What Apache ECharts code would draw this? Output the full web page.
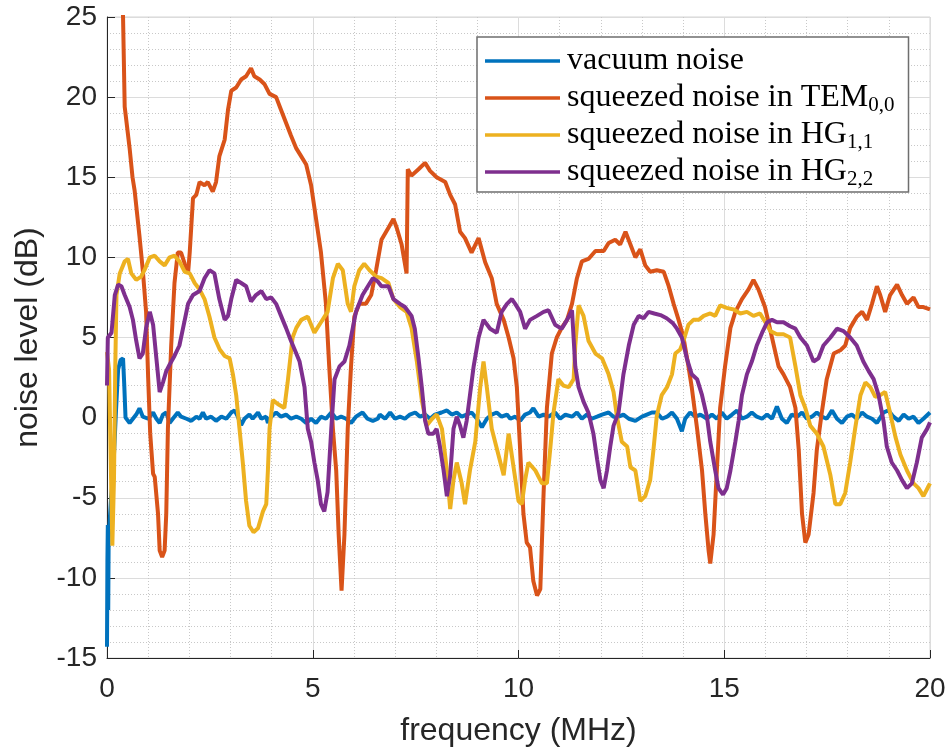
<!DOCTYPE html>
<html>
<head>
<meta charset="utf-8">
<script src="https://cdn.jsdelivr.net/npm/echarts@6.0.0/dist/echarts.min.js"></script>
<style>
html, body { margin: 0; padding: 0; background: #fff; }
#chart { width: 951px; height: 752px; }
</style>
</head>
<body>
<div id="chart"></div>
<script>
// noise spectra, [frequency (MHz), noise level (dB)]
let vacuumNoise = [
    [0, -14.3], [0.01, -9], [0.02, -6.7], [0.03, -12], [0.04, -7.5], [0.1, -5], [0.15, -3.4], [0.19, -3.3],
    [0.22, 0.5], [0.27, 3.0], [0.33, 3.6], [0.39, 3.7], [0.42, 2.0], [0.45, 0.0], [0.55, -0.33], [0.63, -0.07],
    [0.71, 0.19], [0.79, 0.58], [0.87, 0.06], [1.00, -0.07], [1.12, 0.32], [1.20, -0.07], [1.28, -0.33], [1.36, 0.19],
    [1.44, 0.32], [1.52, -0.33], [1.60, -0.07], [1.72, 0.32], [1.80, 0.06], [1.93, -0.07], [2.05, -0.2], [2.17, 0.06],
    [2.25, -0.07], [2.33, 0.32], [2.41, -0.07], [2.53, 0.06], [2.65, -0.2], [2.78, 0.06], [2.90, -0.07], [3.02, 0.32],
    [3.10, 0.45], [3.18, 0.06], [3.26, -0.46], [3.34, -0.07], [3.46, 0.19], [3.54, -0.07], [3.67, 0.32], [3.75, -0.07],
    [3.87, 0.06], [3.91, -0.33], [3.99, 0.06], [4.11, 0.32], [4.23, 0.06], [4.35, 0.19], [4.47, -0.07], [4.60, 0.06],
    [4.72, -0.07], [4.84, -0.33], [4.96, -0.07], [5.08, -0.33], [5.20, 0.06], [5.32, -0.07], [5.45, 0.32], [5.57, -0.07],
    [5.69, 0.06], [5.81, -0.07], [5.93, -0.33], [6.05, 0.06], [6.21, 0.32], [6.33, -0.07], [6.46, -0.2], [6.58, -0.07],
    [6.63, 0.19], [6.76, -0.07], [6.88, 0.32], [7.00, -0.07], [7.12, 0.06], [7.24, -0.07], [7.36, 0.19], [7.49, 0.32],
    [7.61, 0.06], [7.73, 0.19], [7.85, -0.07], [7.97, 0.19], [8.13, 0.32], [8.26, 0.45], [8.38, 0.19], [8.50, 0.32],
    [8.62, 0.06], [8.74, 0.19], [8.86, 0.32], [8.99, -0.07], [9.11, -0.6], [9.23, -0.07], [9.35, 0.19], [9.47, 0.32],
    [9.59, 0.06], [9.72, 0.19], [9.80, -0.07], [9.92, 0.06], [10.04, -0.2], [10.16, 0.19], [10.28, 0.32], [10.36, 0.58],
    [10.49, 0.06], [10.61, 0.19], [10.73, 0.06], [10.89, 0.32], [11.01, -0.07], [11.14, 0.19], [11.30, 0.06], [11.42, 0.32],
    [11.54, -0.07], [11.66, 0.19], [11.78, -0.07], [11.91, 0.06], [12.03, 0.19], [12.19, 0.32], [12.31, 0.06], [12.43, 0.06],
    [12.55, 0.19], [12.68, -0.07], [12.84, -0.2], [13.00, 0.06], [13.12, 0.19], [13.24, 0.32], [13.36, 0.32], [13.49, -0.07],
    [13.61, 0.06], [13.73, 0.32], [13.85, -0.07], [13.97, -0.85], [14.05, -0.07], [14.17, 0.32], [14.30, 0.06], [14.42, 0.19],
    [14.58, -0.07], [14.70, 0.19], [14.82, -0.07], [14.94, 0.32], [15.06, -0.07], [15.19, 0.19], [15.31, 0.45], [15.43, -0.07],
    [15.55, 0.06], [15.67, 0.32], [15.79, 0.06], [15.92, -0.07], [16.04, 0.19], [16.16, -0.07], [16.28, 0.7], [16.40, -0.07],
    [16.52, -0.33], [16.64, 0.19], [16.77, 0.06], [16.89, 0.32], [17.01, -0.07], [17.13, 0.06], [17.25, 0.32], [17.37, 0.06],
    [17.49, -0.07], [17.62, 0.45], [17.74, -0.07], [17.86, -0.33], [17.98, 0.06], [18.10, 0.19], [18.22, -0.07], [18.35, 0.32],
    [18.47, 0.06], [18.59, -0.07], [18.71, -0.33], [18.87, 0.32], [18.99, 0.45], [19.11, 0.06], [19.24, -0.2], [19.36, 0.19],
    [19.48, -0.07], [19.60, 0.06], [19.72, -0.33], [19.84, -0.07], [20.0, 0.32]
];

let tem00 = [
    [0.36, 27], [0.39, 25], [0.43, 19.4], [0.55, 16.8], [0.62, 15.0], [0.67, 14.2], [0.79, 11.3], [0.87, 9.2],
    [0.95, 6.6], [1.00, 2.5], [1.05, -1.0], [1.12, -3.5], [1.16, -3.7], [1.24, -6.0], [1.28, -8.3], [1.34, -8.7],
    [1.40, -8.3], [1.44, -6.0], [1.48, -0.7], [1.56, 4.5], [1.64, 8.4], [1.72, 10.3], [1.80, 10.3], [1.89, 9.6],
    [1.97, 9.0], [2.01, 10.3], [2.09, 13.7], [2.17, 13.9], [2.25, 14.7], [2.37, 14.5], [2.45, 14.7], [2.57, 14.1],
    [2.65, 14.7], [2.73, 16.3], [2.86, 17.35], [2.94, 19.2], [3.02, 20.4], [3.14, 20.6], [3.26, 21.1], [3.38, 21.3],
    [3.50, 21.8], [3.58, 21.3], [3.71, 21.1], [3.83, 20.8], [3.95, 20.2], [4.11, 20.0], [4.23, 19.2], [4.35, 18.4],
    [4.47, 17.6], [4.60, 16.8], [4.72, 16.3], [4.84, 15.8], [4.96, 14.5], [5.08, 12.4], [5.20, 10.3], [5.32, 7.1],
    [5.40, 3.2], [5.49, -0.7], [5.57, -3.3], [5.63, -7.3], [5.70, -10.8], [5.77, -7.3], [5.85, -0.7], [5.93, 3.2],
    [6.01, 6.3], [6.13, 7.1], [6.29, 7.1], [6.42, 7.65], [6.54, 9.2], [6.67, 11.1], [6.84, 11.85], [6.96, 12.4],
    [7.04, 11.85], [7.16, 10.8], [7.28, 9.0], [7.31, 15.5], [7.40, 15.1], [7.57, 15.5], [7.73, 15.9], [7.85, 15.4],
    [8.01, 15.0], [8.22, 14.7], [8.34, 13.9], [8.46, 13.3], [8.58, 11.6], [8.70, 11.2], [8.86, 10.3], [9.03, 11.2],
    [9.19, 9.7], [9.35, 8.7], [9.47, 7.1], [9.64, 6.1], [9.76, 5.0], [9.88, 3.7], [9.96, 1.9], [10.04, -2.0],
    [10.12, -6.0], [10.20, -7.8], [10.28, -8.1], [10.36, -10.2], [10.45, -11.1], [10.53, -10.7], [10.61, -4.7], [10.69, 0.6],
    [10.81, 4.0], [10.93, 5.0], [11.05, 5.6], [11.18, 6.1], [11.30, 7.1], [11.42, 8.7], [11.54, 9.75], [11.70, 9.9],
    [11.87, 10.4], [12.07, 10.4], [12.19, 10.9], [12.35, 11.1], [12.47, 10.8], [12.60, 11.6], [12.72, 10.8], [12.84, 10.0],
    [12.96, 10.5], [13.08, 9.5], [13.20, 9.1], [13.36, 9.2], [13.53, 9.1], [13.65, 8.2], [13.77, 7.1], [13.89, 6.1],
    [14.01, 5.0], [14.13, 3.2], [14.21, 1.9], [14.34, -0.7], [14.46, -3.3], [14.54, -6.0], [14.62, -8.3], [14.66, -9.1],
    [14.74, -7.3], [14.82, -3.3], [14.90, 0.6], [15.02, 3.2], [15.15, 5.6], [15.27, 6.6], [15.43, 7.4], [15.59, 8.0],
    [15.71, 8.6], [15.83, 8.0], [15.99, 6.9], [16.16, 5.0], [16.32, 3.2], [16.44, 2.7], [16.60, 1.9], [16.73, 0.6],
    [16.81, -2.0], [16.89, -6.0], [16.97, -7.8], [17.05, -7.3], [17.17, -4.7], [17.25, -2.0], [17.37, 0.3], [17.49, 2.4],
    [17.66, 4.0], [17.82, 4.2], [17.94, 4.5], [18.06, 5.6], [18.22, 6.3], [18.35, 6.6], [18.47, 6.1], [18.59, 7.1],
    [18.71, 8.2], [18.79, 7.65], [18.91, 6.6], [19.03, 7.65], [19.20, 8.3], [19.32, 7.65], [19.44, 7.1], [19.60, 7.5],
    [19.72, 6.9], [19.84, 6.9], [20.0, 6.75]
];

let hg11 = [
    [0, 4.1], [0.05, 3.0], [0.09, -2.6], [0.13, -8.0], [0.15, -8.1], [0.17, -3.8], [0.2, 3.0], [0.23, 7.65],
    [0.31, 9.0], [0.43, 9.75], [0.51, 9.9], [0.59, 9.0], [0.71, 8.6], [0.83, 8.8], [0.91, 9.2], [1.04, 10.0],
    [1.16, 10.1], [1.28, 9.75], [1.40, 9.5], [1.52, 10.0], [1.64, 10.1], [1.76, 9.75], [1.89, 9.1], [2.01, 9.0],
    [2.13, 8.4], [2.25, 8.0], [2.37, 7.4], [2.49, 6.3], [2.61, 5.0], [2.74, 4.25], [2.86, 3.85], [2.98, 3.7],
    [3.06, 2.7], [3.14, 1.4], [3.22, -0.7], [3.30, -2.8], [3.38, -5.2], [3.46, -6.75], [3.56, -7.15], [3.67, -6.9],
    [3.79, -5.85], [3.87, -5.4], [3.91, -3.3], [3.95, -0.7], [4.03, 1.1], [4.15, 0.85], [4.31, 0.6], [4.39, 2.2],
    [4.51, 5.0], [4.60, 5.6], [4.72, 6.1], [4.88, 6.3], [5.04, 5.3], [5.20, 5.95], [5.36, 6.6], [5.49, 8.7],
    [5.61, 9.6], [5.73, 9.2], [5.85, 7.1], [5.93, 6.6], [6.01, 8.2], [6.13, 9.2], [6.25, 9.6], [6.38, 9.2],
    [6.54, 8.8], [6.67, 8.7], [6.84, 8.4], [6.96, 7.4], [7.12, 6.9], [7.28, 6.6], [7.40, 5.6], [7.53, 3.5],
    [7.65, 1.1], [7.77, -0.5], [7.89, -0.1], [8.01, 0.2], [8.14, -0.7], [8.26, -3.3], [8.34, -5.7], [8.42, -3.9],
    [8.50, -2.8], [8.62, -4.1], [8.70, -5.4], [8.82, -3.3], [8.95, -1.5], [9.07, 1.9], [9.15, 3.5], [9.23, 1.9],
    [9.35, -0.7], [9.51, -2.3], [9.64, -3.6], [9.76, -1.0], [9.88, -3.1], [10.0, -5.2], [10.08, -5.4], [10.16, -3.9],
    [10.24, -2.8], [10.41, -3.3], [10.57, -4.1], [10.69, -4.1], [10.77, -2.0], [10.85, 0.3], [10.97, 2.4], [11.09, 2.0],
    [11.22, 1.9], [11.34, 2.4], [11.38, 4.5], [11.46, 7.0], [11.58, 6.35], [11.70, 4.8], [11.87, 4.0], [12.03, 3.7],
    [12.19, 2.7], [12.31, 1.6], [12.39, 0.1], [12.51, -1.5], [12.64, -1.8], [12.72, -3.1], [12.84, -3.3], [12.96, -5.2],
    [13.08, -4.9], [13.20, -3.9], [13.28, -2.0], [13.36, 0.1], [13.48, 1.4], [13.61, 1.9], [13.73, 2.7], [13.81, 4.0],
    [13.93, 4.25], [14.01, 4.8], [14.13, 5.8], [14.25, 6.1], [14.38, 6.1], [14.50, 6.35], [14.66, 6.5], [14.78, 6.35],
    [14.90, 7.0], [15.06, 6.85], [15.23, 6.75], [15.39, 6.5], [15.55, 6.6], [15.71, 6.35], [15.87, 6.5], [16.00, 5.95],
    [16.12, 5.4], [16.28, 5.2], [16.44, 5.2], [16.60, 5.0], [16.73, 3.2], [16.85, 1.4], [16.97, 0.6], [17.09, -0.5],
    [17.25, -1.0], [17.41, -1.8], [17.58, -3.6], [17.70, -5.4], [17.82, -5.4], [17.94, -4.7], [18.06, -2.8], [18.18, -0.7],
    [18.31, 1.4], [18.43, 2.2], [18.55, 1.9], [18.67, 1.3], [18.79, 1.4], [18.91, 1.6], [19.03, 0.3], [19.16, -1.2],
    [19.28, -2.3], [19.44, -3.3], [19.60, -4.1], [19.72, -4.4], [19.84, -4.9], [19.96, -4.3], [20.0, -4.1]
];

let hg22 = [
    [0, 2.0], [0.02, 5.0], [0.11, 5.3], [0.19, 7.65], [0.27, 8.3], [0.35, 8.2], [0.43, 7.65], [0.55, 6.9],
    [0.63, 6.1], [0.71, 4.8], [0.79, 3.7], [0.87, 4.0], [0.95, 5.6], [1.04, 6.6], [1.12, 5.8], [1.20, 3.7],
    [1.28, 1.6], [1.36, 2.2], [1.44, 2.9], [1.52, 3.3], [1.64, 3.85], [1.76, 4.5], [1.89, 6.1], [1.97, 7.1],
    [2.09, 7.65], [2.25, 7.9], [2.37, 8.7], [2.49, 9.2], [2.61, 9.0], [2.73, 7.4], [2.86, 6.1], [2.94, 6.35],
    [3.02, 7.4], [3.14, 8.6], [3.26, 8.4], [3.38, 8.2], [3.50, 7.25], [3.62, 7.65], [3.75, 7.9], [3.87, 7.4],
    [3.99, 7.5], [4.11, 7.1], [4.23, 6.35], [4.35, 5.6], [4.47, 4.8], [4.60, 4.0], [4.68, 3.5], [4.80, 1.9],
    [4.88, -0.7], [4.96, -1.5], [5.04, -2.8], [5.12, -3.9], [5.20, -5.4], [5.28, -5.85], [5.36, -4.65], [5.45, -0.7],
    [5.53, 2.4], [5.65, 3.2], [5.77, 3.5], [5.89, 4.5], [5.97, 5.55], [6.05, 6.6], [6.21, 7.65], [6.34, 8.2],
    [6.46, 8.7], [6.58, 8.5], [6.67, 8.2], [6.84, 8.2], [6.96, 7.4], [7.12, 7.1], [7.24, 6.9], [7.40, 6.35],
    [7.48, 5.55], [7.57, 3.7], [7.65, 1.9], [7.73, -0.2], [7.81, -1.0], [7.93, -1.0], [8.01, -0.7], [8.09, -1.8],
    [8.18, -3.3], [8.26, -4.9], [8.34, -3.6], [8.42, -0.7], [8.50, 0.05], [8.58, -0.5], [8.66, -1.25], [8.74, -0.2],
    [8.82, 1.4], [8.91, 3.2], [9.03, 5.0], [9.15, 6.1], [9.31, 5.55], [9.47, 5.3], [9.59, 6.6], [9.72, 7.1],
    [9.84, 7.4], [9.92, 7.1], [10.04, 6.6], [10.16, 5.55], [10.28, 6.1], [10.45, 6.35], [10.61, 6.6], [10.73, 6.7],
    [10.89, 5.8], [11.05, 5.55], [11.18, 6.1], [11.30, 6.7], [11.38, 3.2], [11.46, 1.9], [11.58, 1.0], [11.70, 0.3],
    [11.82, -1.0], [11.91, -2.6], [11.99, -3.9], [12.07, -4.4], [12.15, -3.3], [12.23, -1.8], [12.31, -0.5], [12.43, 0.3],
    [12.55, 2.7], [12.68, 4.5], [12.80, 5.8], [12.92, 6.35], [13.04, 6.2], [13.16, 6.6], [13.30, 6.5], [13.45, 6.4],
    [13.60, 6.2], [13.75, 5.9], [13.85, 5.55], [13.97, 5.0], [14.09, 3.7], [14.21, 2.7], [14.34, 2.4], [14.46, 1.4],
    [14.58, 0.05], [14.66, -1.5], [14.78, -3.3], [14.86, -4.4], [14.97, -4.8], [15.06, -4.4], [15.15, -3.3], [15.27, -1.5],
    [15.35, -0.2], [15.43, 1.4], [15.55, 2.7], [15.67, 3.5], [15.79, 4.5], [15.92, 5.3], [16.04, 5.95], [16.16, 6.1],
    [16.28, 5.95], [16.44, 5.95], [16.60, 5.7], [16.73, 5.55], [16.85, 5.0], [17.01, 4.5], [17.17, 3.5], [17.29, 3.7],
    [17.41, 4.5], [17.58, 5.0], [17.74, 5.55], [17.90, 5.4], [18.06, 5.0], [18.22, 4.5], [18.38, 3.5], [18.51, 2.9],
    [18.63, 2.4], [18.75, 1.4], [18.87, -0.2], [18.95, -1.8], [19.07, -2.8], [19.20, -3.3], [19.32, -3.9], [19.44, -4.4],
    [19.56, -4.1], [19.68, -2.8], [19.80, -1.25], [19.93, -0.7], [20.0, -0.3]
];

let seriesNames = ['vacuum noise', 'squeezed noise in TEM_0,0', 'squeezed noise in HG_1,1', 'squeezed noise in HG_2,2'];
let seriesData = [vacuumNoise, tem00, hg11, hg22];
let lineColors = ['#0072BD', '#D95319', '#EDB120', '#7E2F8E'];

let textColor = '#262626';
let sans = 'Liberation Sans, Arial, sans-serif';
let serif = 'Liberation Serif, Times New Roman, serif';

let chart = echarts.init(document.getElementById('chart'));

function axisStyle(min, max, name, nameGap, labelMargin) {
    return {
        type: 'value',
        min: min,
        max: max,
        interval: 5,
        name: name,
        nameLocation: 'middle',
        nameGap: nameGap,
        nameTextStyle: { fontFamily: sans, fontSize: 32, color: textColor },
        axisLine: { show: true, onZero: false, lineStyle: { color: textColor, width: 1 } },
        axisTick: { show: true, inside: true, length: 8, lineStyle: { color: textColor, width: 1 } },
        minorTick: { show: false, splitNumber: 5 },
        axisLabel: { margin: labelMargin, fontFamily: sans, fontSize: 28, color: textColor },
        splitLine: { show: true, lineStyle: { color: '#dcdcdc', width: 1 } },
        minorSplitLine: { show: true, lineStyle: { color: '#c8c8c8', width: 1, type: [1, 2] } }
    };
}

let series = seriesNames.map(function (name, i) {
    return {
        name: name,
        type: 'line',
        data: seriesData[i],
        symbol: 'none',
        clip: true,
        lineStyle: { color: lineColors[i], width: 4 },
        itemStyle: { color: lineColors[i] },
        z: 2 + i
    };
});

let option = {
    animation: false,
    backgroundColor: '#ffffff',
    grid: {
        left: 107, right: 21, top: 17, bottom: 92,
        show: true, borderColor: '#d4d4d4', borderWidth: 1, backgroundColor: '#ffffff'
    },
    legend: {
        orient: 'vertical',
        left: 477,
        top: 37,
        padding: [6, 14, 2, 8],
        itemGap: 1,
        itemWidth: 75,
        itemHeight: 3.5,
        icon: 'rect',
        backgroundColor: '#ffffff',
        borderColor: '#6e6e6e',
        borderWidth: 1.5,
        data: seriesNames,
        textStyle: {
            fontFamily: serif,
            fontSize: 32,
            lineHeight: 36,
            color: '#000',
            padding: [0, 0, 0, 2],
            rich: {
                m: { fontFamily: serif, fontSize: 32, lineHeight: 36, color: '#000' },
                s: { fontFamily: serif, fontSize: 21, lineHeight: 21, verticalAlign: 'bottom', color: '#000' }
            }
        },
        formatter: function (name) {
            let parts = name.split('_');
            if (parts.length > 1) {
                return '{m|' + parts[0] + '}{s|' + parts[1] + '}';
            }
            return '{m|' + name + '}';
        }
    },
    xAxis: axisStyle(0, 20, 'frequency (MHz)', 57, 17),
    yAxis: axisStyle(-15, 25, 'noise level (dB)', 63, 10),
    series: series
};

chart.setOption(option);
</script>
</body>
</html>
